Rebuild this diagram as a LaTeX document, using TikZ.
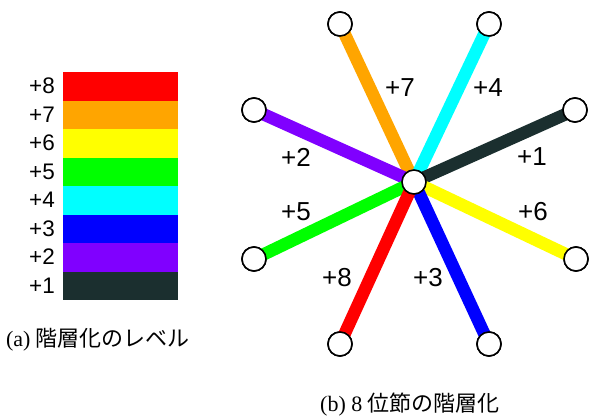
\documentclass[tikz,border=0pt]{standalone}
\usepackage{fontspec}
\setmainfont{Liberation Serif}
\setsansfont{Liberation Sans}
\newfontfamily\cjk{Noto Sans CJK JP}
\definecolor{lvA}{HTML}{1B2F2F}
\definecolor{lvB}{HTML}{8000FF}
\definecolor{lvC}{HTML}{0000FF}
\definecolor{lvD}{HTML}{00FFFF}
\definecolor{lvE}{HTML}{00FF00}
\definecolor{lvF}{HTML}{FFFF00}
\definecolor{lvG}{HTML}{FFA500}
\definecolor{lvH}{HTML}{FF0000}
\tikzset{
  bar/.style={draw=none, minimum width=115pt, minimum height=28.6pt, inner sep=0pt, anchor=north west},
  barlbl/.style={font=\sffamily\fontsize{22.5}{22.5}\selectfont, inner sep=0pt},
  spoke/.style={line width=12.5pt},
  vtx/.style={circle, draw=black, line width=1.6pt, fill=white, minimum size=24pt, inner sep=0pt},
  splbl/.style={font=\sffamily\fontsize{26}{26}\selectfont, inner sep=0pt},
  captxt/.style={font=\rmfamily\fontsize{22}{22}\selectfont, inner sep=0pt}
}
\begin{document}
\begin{tikzpicture}[x=1pt,y=-1pt]
\useasboundingbox (0,0) rectangle (590,418);
% left color bars
\foreach \c/\l [count=\i from 0] in {lvH/8,lvG/7,lvF/6,lvE/5,lvD/4,lvC/3,lvB/2,lvA/1} {
  \node[bar, fill=\c] (bar\l) at (63,{72+28.5*\i}) {};
  \node[barlbl] (bl\l) at (42,{86+28.5*\i}) {+\l};
}
\node[captxt] (capa) at (98,340) {(a) {\cjk 階層化のレベル}};
% right star
\node[vtx] (c) at (414,182) {};
\node[vtx] (p7) at (340,24) {};
\node[vtx] (p4) at (489,24) {};
\node[vtx] (p1) at (575,110) {};
\node[vtx] (p2) at (254,110) {};
\node[vtx] (p5) at (254,259) {};
\node[vtx] (p6) at (576,259) {};
\node[vtx] (p8) at (340,344) {};
\node[vtx] (p3) at (489,344) {};
\draw[spoke, lvG] (c.center) -- (p7.center);
\draw[spoke, lvD] (c.center) -- (p4.center);
\draw[spoke, lvA] (c.center) -- (p1.center);
\draw[spoke, lvB] (c.center) -- (p2.center);
\draw[spoke, lvE] (c.center) -- (p5.center);
\draw[spoke, lvF] (c.center) -- (p6.center);
\draw[spoke, lvC] (c.center) -- (p3.center);
\draw[spoke, lvH] (c.center) -- (p8.center);
\foreach \p in {p1,p2,p3,p4,p5,p6,p7,p8,c} {
  \node[vtx] at (\p) {};
}
\node[splbl] (l7) at (400,88) {+7};
\node[splbl] (l4) at (488,88) {+4};
\node[splbl] (l2) at (296,157) {+2};
\node[splbl] (l1) at (532,157) {+1};
\node[splbl] (l5) at (296,212) {+5};
\node[splbl] (l6) at (533,212) {+6};
\node[splbl] (l8) at (337,278) {+8};
\node[splbl] (l3) at (428,278) {+3};
\node[captxt] (capb) at (410,405) {(b) 8 {\cjk 位節の階層化}};
\end{tikzpicture}
\end{document}
